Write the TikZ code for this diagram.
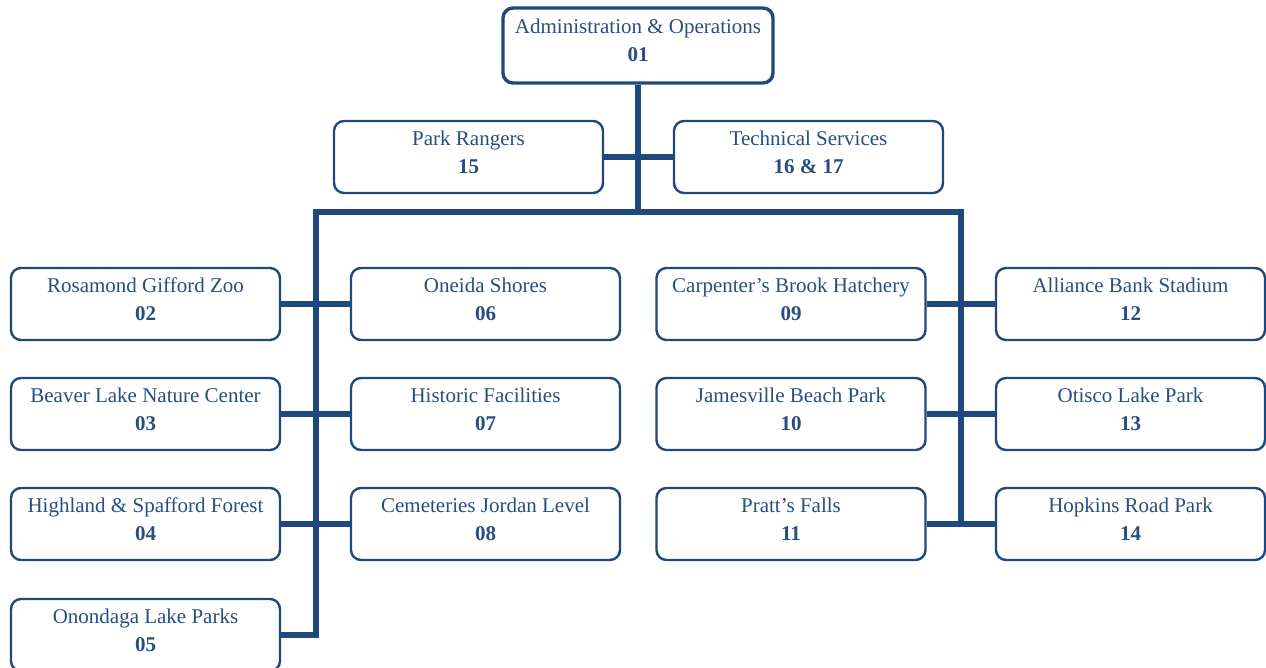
\documentclass[tikz,border=0pt]{standalone}
\usepackage{fontspec}
\setmainfont{Liberation Serif}
\usetikzlibrary{backgrounds}
\definecolor{navy}{RGB}{31,73,125}
\definecolor{txtblue}{RGB}{40,78,128}
\tikzset{
  box/.style={draw=navy, line width=2.4pt, rounded corners=10pt, fill=white,
    minimum width=269pt, minimum height=72pt, inner sep=2pt,
    align=center, text=txtblue, text depth=10pt,
    font=\fontsize{21}{28}\selectfont},
  topbox/.style={box, line width=3.4pt, minimum width=270pt, minimum height=75pt},
  conn/.style={draw=navy, line width=5.5pt}
}
\begin{document}
\begin{tikzpicture}[x=1pt,y=-1pt]
\useasboundingbox (0,0) rectangle (1266,668);
\clip (0,0) rectangle (1266,668);
% boxes
\node[topbox] (b01) at (638,45.5) {Administration \& Operations\\\textbf{01}};
\node[box] (b15) at (468.5,157) {Park Rangers\\\textbf{15}};
\node[box] (b16) at (808.5,157) {Technical Services\\\textbf{16 \& 17}};
\node[box] (b02) at (145.5,304) {Rosamond Gifford Zoo\\\textbf{02}};
\node[box] (b03) at (145.5,414) {Beaver Lake Nature Center\\\textbf{03}};
\node[box] (b04) at (145.5,524) {Highland \& Spafford Forest\\\textbf{04}};
\node[box] (b05) at (145.5,635) {Onondaga Lake Parks\\\textbf{05}};
\node[box] (b06) at (485.5,304) {Oneida Shores\\\textbf{06}};
\node[box] (b07) at (485.5,414) {Historic Facilities\\\textbf{07}};
\node[box] (b08) at (485.5,524) {Cemeteries Jordan Level\\\textbf{08}};
\node[box] (b09) at (791,304) {Carpenter’s Brook Hatchery\\\textbf{09}};
\node[box] (b10) at (791,414) {Jamesville Beach Park\\\textbf{10}};
\node[box] (b11) at (791,524) {Pratt’s Falls\\\textbf{11}};
\node[box] (b12) at (1130.5,304) {Alliance Bank Stadium\\\textbf{12}};
\node[box] (b13) at (1130.5,414) {Otisco Lake Park\\\textbf{13}};
\node[box] (b14) at (1130.5,524) {Hopkins Road Park\\\textbf{14}};
% connectors (drawn behind the boxes)
\coordinate (j2) at (638,212);
\coordinate (bl) at (316,212);
\coordinate (br) at (961,212);
\begin{pgfonlayer}{background}
\draw[conn] (b01.south) -- (j2);
\draw[conn] (b05.east) -| (bl) -- (br) |- (b11.east);
\draw[conn] (b15.east) -- (b16.west);
\draw[conn] (b02.east) -- (b06.west);
\draw[conn] (b03.east) -- (b07.west);
\draw[conn] (b04.east) -- (b08.west);
\draw[conn] (b09.east) -- (b12.west);
\draw[conn] (b10.east) -- (b13.west);
\draw[conn] (b11.east) -- (b14.west);
\end{pgfonlayer}
\end{tikzpicture}
\end{document}
